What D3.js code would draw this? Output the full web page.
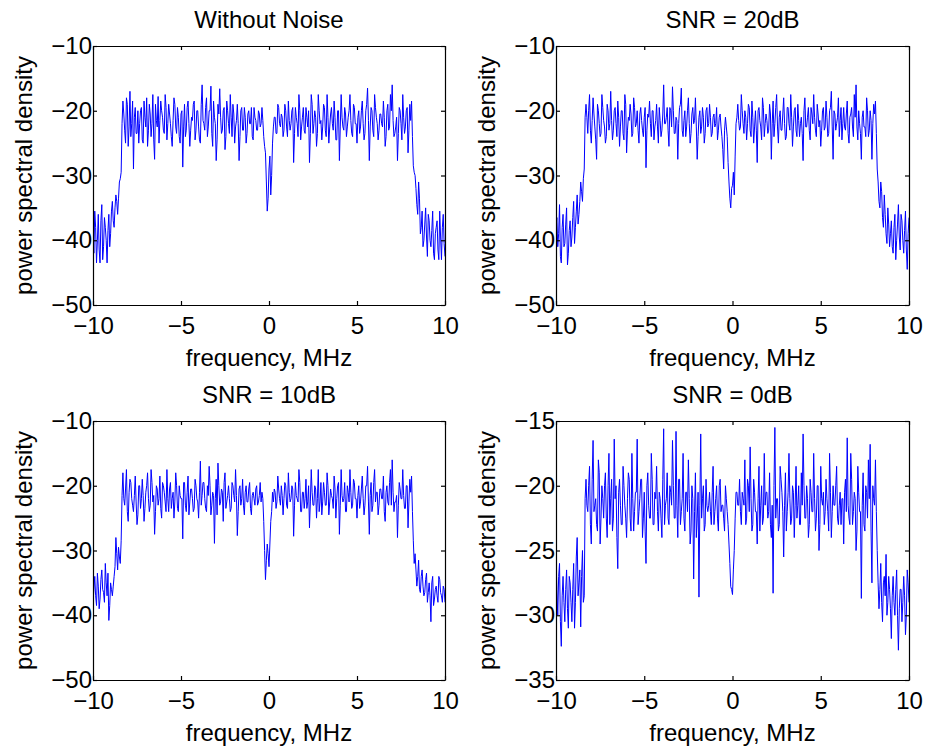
<!DOCTYPE html>
<html><head><meta charset="utf-8">
<script src="https://cdn.jsdelivr.net/npm/d3@7"></script>
<style>
body{margin:0;background:#fff}
svg{display:block}
text{font-family:"Liberation Sans",Arial,Helvetica,sans-serif;fill:#000}
</style>
</head><body>
<svg id="chart" width="925" height="746"></svg>
<script>
// frequency bins (MHz), coarse grid
const freq = [
-10,-9.9,-9.8,-9.7,-9.6,-9.5,-9.4,-9.3,-9.2,-9.1,-9,-8.9,-8.8,-8.7,-8.6,-8.5,-8.4,-8.3,-8.2,-8.1,
-8,-7.9,-7.8,-7.7,-7.6,-7.5,-7.4,-7.3,-7.2,-7.1,-7,-6.9,-6.8,-6.7,-6.6,-6.5,-6.4,-6.3,-6.2,-6.1,
-6,-5.9,-5.8,-5.7,-5.6,-5.5,-5.4,-5.3,-5.2,-5.1,-5,-4.9,-4.8,-4.7,-4.6,-4.5,-4.4,-4.3,-4.2,-4.1,
-4,-3.9,-3.8,-3.7,-3.6,-3.5,-3.4,-3.3,-3.2,-3.1,-3,-2.9,-2.8,-2.7,-2.6,-2.5,-2.4,-2.3,-2.2,-2.1,
-2,-1.9,-1.8,-1.7,-1.6,-1.5,-1.4,-1.3,-1.2,-1.1,-1,-0.9,-0.8,-0.7,-0.6,-0.5,-0.4,-0.3,-0.2,-0.1,
0,0.1,0.2,0.3,0.4,0.5,0.6,0.7,0.8,0.9,1,1.1,1.2,1.3,1.4,1.5,1.6,1.7,1.8,1.9,
2,2.1,2.2,2.3,2.4,2.5,2.6,2.7,2.8,2.9,3,3.1,3.2,3.3,3.4,3.5,3.6,3.7,3.8,3.9,
4,4.1,4.2,4.3,4.4,4.5,4.6,4.7,4.8,4.9,5,5.1,5.2,5.3,5.4,5.5,5.6,5.7,5.8,5.9,
6,6.1,6.2,6.3,6.4,6.5,6.6,6.7,6.8,6.9,7,7.1,7.2,7.3,7.4,7.5,7.6,7.7,7.8,7.9,
8,8.1,8.2,8.3,8.4,8.5,8.6,8.7,8.8,8.9,9,9.1,9.2,9.3,9.4,9.5,9.6,9.7,9.8,9.9,10
];
// intermediate frequency bins (MHz)
const freqMid = [
-9.95,-9.85,-9.75,-9.65,-9.55,-9.45,-9.35,-9.25,-9.15,-9.05,-8.95,-8.85,-8.75,-8.65,-8.55,-8.45,-8.35,-8.25,-8.15,-8.05,
-7.95,-7.85,-7.75,-7.65,-7.55,-7.45,-7.35,-7.25,-7.15,-7.05,-6.95,-6.85,-6.75,-6.65,-6.55,-6.45,-6.35,-6.25,-6.15,-6.05,
-5.95,-5.85,-5.75,-5.65,-5.55,-5.45,-5.35,-5.25,-5.15,-5.05,-4.95,-4.85,-4.75,-4.65,-4.55,-4.45,-4.35,-4.25,-4.15,-4.05,
-3.95,-3.85,-3.75,-3.65,-3.55,-3.45,-3.35,-3.25,-3.15,-3.05,-2.95,-2.85,-2.75,-2.65,-2.55,-2.45,-2.35,-2.25,-2.15,-2.05,
-1.95,-1.85,-1.75,-1.65,-1.55,-1.45,-1.35,-1.25,-1.15,-1.05,-0.95,-0.85,-0.75,-0.65,-0.55,-0.45,-0.35,-0.25,-0.15,-0.05,
0.05,0.15,0.25,0.35,0.45,0.55,0.65,0.75,0.85,0.95,1.05,1.15,1.25,1.35,1.45,1.55,1.65,1.75,1.85,1.95,
2.05,2.15,2.25,2.35,2.45,2.55,2.65,2.75,2.85,2.95,3.05,3.15,3.25,3.35,3.45,3.55,3.65,3.75,3.85,3.95,
4.05,4.15,4.25,4.35,4.45,4.55,4.65,4.75,4.85,4.95,5.05,5.15,5.25,5.35,5.45,5.55,5.65,5.75,5.85,5.95,
6.05,6.15,6.25,6.35,6.45,6.55,6.65,6.75,6.85,6.95,7.05,7.15,7.25,7.35,7.45,7.55,7.65,7.75,7.85,7.95,
8.05,8.15,8.25,8.35,8.45,8.55,8.65,8.75,8.85,8.95,9.05,9.15,9.25,9.35,9.45,9.55,9.65,9.75,9.85,9.95
];

// Without Noise
const psdClean = [
-39,-35.5,-43.5,-36,-43.5,-34.5,-41,-38,-43.5,-36,-39,-34,-38,-33,-36,-31,-29.5,
-18.5,-23,-18,-25.5,-17,-22,-29,-19.5,-23.5,-25,
-20,-24.5,-18.5,-22.5,-25.5,-19,-24,-17.5,-27.5,-21.5,
-17.8,-21.5,-20,-23,-17.5,-24.5,-19,-22,-25.5,-18,
-22.5,-19.5,-24,-20.5,-28.7,-19,-23,-18.5,-25.5,-21,
-19,-24.5,-20,-22.5,-25,-16,-22,-19.5,-24,-20,
-16.2,-25.5,-21,-27.7,-19,-16.6,-23.5,-20,-26,-18.5,
-22,-17.5,-24,-20.5,-22.5,-19,-27.7,-20,-23,-19.5,
-25,-20.5,-22,-19.5,-24.5,-21,-23,-20,-22.5,-19.5,
-24,-26.5,-35.5,-29,-33,-25,-21,
-23.5,-19,-22,-20.5,-24,-19,-22.5,-18.5,-23,-20,
-28,-19.5,-22,-17.5,-24.5,-21,-23,-19.5,-22.5,-28,
-17.5,-23.5,-20,-25.5,-17.5,-22,-24.5,-19,-23,-17.5,
-25,-20.5,-22,-18.5,-24.5,-20,-27.7,-17.5,-22.5,-19.5,
-24,-21,-17.5,-23.5,-19,-22,-25,-20,-22.5,-18.5,
-24.5,-20,-16.5,-27.7,-19.5,-23,-17.5,-21,-24.5,-20.5,
-22,-18.5,-25.5,-20,-23,-17.5,-16,-24,-22.5,-27.7,
-19.5,-22,-17.5,-23.5,-20,-26.5,-19,-18.5,
-28.5,-30,-34.5,-31,-39,-35.5,-40,-35,-42.5,-37,-41,-35.5,-43,-38,-41.5,-35.5,-43,-36,-42.5
];
const psdCleanMid = [
-42,-38,-40,-41.5,-37,-43,-36.5,-40,-38.5,-41,-35.5,-37,-35,-34,-33.5,-30.5,
-22,
-20.5,-25,-19,-22.5,-24,-18.5,-21,-23.5,-20,
-22,-19.5,-25,-21,-18,-23,-20.5,-22,-24.5,-19,
-22.5,-25,-18.5,-21,-23.5,-19.5,-22,-20.5,-24,-21.5,
-19,-23.5,-21,-25,-20,-22.5,-24,-19.5,-22,-23,
-21.5,-18.5,-23,-20,-24.5,-19,-21.5,-23,-18,-22.5,
-20,-23.5,-18.5,-22,-24.5,-20.5,-21,-23,-19.5,-24,
-20,-23.5,-21,-19,-25,-21.5,-22,-24,-19.5,-23,
-21,-23.5,-20,-22,-24,-19.5,-21.5,-23,-20.5,-22,
-21.5,-25.5,-31,-33.5,-27,-30,-22.5,
-21,-23.5,-19.5,-22.5,-21,-23,-20,-24,-21.5,-22,
-19.5,-23.5,-21,-24,-20,-22.5,-19.5,-23.5,-21,-20,
-23.5,-19,-22,-21,-23.5,-20,-21.5,-22.5,-19.5,-24,
-21,-22.5,-19.5,-23,-21,-24.5,-20,-22.5,-21,-23,
-20.5,-22.5,-20,-21.5,-24,-19.5,-22,-21,-23.5,-20,
-22,-23.5,-19,-21.5,-22.5,-20,-24,-19.5,-22,-23,
-20.5,-22.5,-21,-24,-19,-22.5,-20,-21.5,-23.5,-21,
-23.5,-20,-24.5,-21,-22.5,-19.5,-23,-21.5,
-24,
-29.5,-32,-36,-33.5,-38,-41,-37.5,-39.5,-36,-40,-38.5,-42,-39,-37,-43,-39.5,-38,-40.5
];

// SNR = 20dB
const psd20 = [
-38,-41,-34.5,-43.5,-36,-40.5,-35,-42,-37,-39.5,-34,-38,-33,-36,-31,-34,-29,
-19,-23.5,-17.5,-25,-18,-22.5,-27.5,-20,-24,-17.5,
-21.5,-25,-19,-23,-17,-24.5,-20,-22,-18.5,-25.5,
-20,-23.5,-17.5,-26.5,-21,-19,-24,-18,-22.5,-20,
-25,-19.5,-23,-21,-28.8,-20.5,-18.5,-24,-20,-22.5,
-19,-25,-21.5,-23,-16,-22,-19.5,-25.5,-20,-16.3,
-23.5,-21,-27.5,-19.5,-16.5,-24,-20,-22.5,-18,-25,
-20.5,-22,-18,-27.5,-21,-23.5,-19.5,-25,-20,-22.5,
-19,-24,-21,-22.5,-19.5,-23,-20.5,-24,
-29,-21,-24,-31,-35,-31.5,-33,-22,
-19,-23,-17.5,-22,-20,-24.5,-19,-23,-18.5,-25,
-20,-28,-19.5,-22.5,-18,-24,-20.5,-23.5,-19,-27.5,
-18.5,-22,-17.5,-25,-20,-23,-18,-24.5,-19.5,-22,
-17.5,-25.5,-20,-23,-19,-24,-21,-27.7,-18,-22.5,
-19.5,-24.5,-20.5,-17.5,-23,-19,-22.5,-25.5,-20,-23,
-18.5,-24,-20,-17,-27.5,-20.5,-22,-18,-21.5,-24.5,
-19.5,-23,-18.5,-25,-20.5,-22.5,-17.5,-16,-24.5,-22,
-27.5,-20,-22.5,-18,-24,-20,-27.5,-19,-18.5,
-29,-34,-31,-36.5,-33,-39,-35,-41,-37,-42,-36,-40,-34.5,-41.5,-37,-42,-35.5,-44.5,-36.5
];
const psd20Mid = [
-36.5,-39,-42.5,-38,-41,-37.5,-43.8,-38.5,-41,-36.5,-40.5,-35.5,-37.5,-34,-32.5,-30.5,
-21,
-21,-20,-23,-21.5,-20.5,-24.5,-19,-22,-23.5,
-19.5,-22.5,-24,-20,-22,-21.5,-23,-19.5,-24,-21,
-22.5,-20,-24.5,-19,-23,-21.5,-20.5,-23.5,-19.5,-22,
-23,-20.5,-21.5,-24,-19.5,-23,-21,-22,-20,-24.5,
-21.5,-22.5,-19.5,-24,-20.5,-22,-21,-23,-19.5,-22.5,
-20,-23.5,-21.5,-22,-19,-23,-21.5,-24,-20,-22,
-23.5,-19.5,-21.5,-22.5,-24,-20,-22.5,-21,-23.5,-19.5,
-22,-21,-23.5,-20.5,-22,-24.5,-21,-22.5,-26,-23,
-22.5,-28,-33.5,-32,-29.5,-27,-21,
-21.5,-22.5,-20,-23.5,-21,-22,-19.5,-24,-21,-22.5,
-23,-20,-21.5,-24.5,-19.5,-22,-21.5,-23,-20.5,-22,
-24,-19.5,-22.5,-21,-23,-20.5,-22,-24,-19.5,-23,
-21,-22.5,-19.5,-24,-21.5,-22,-23.5,-20,-22.5,-21,
-23,-19.5,-22,-21,-24,-20.5,-21.5,-23,-19.5,-22.5,
-21,-23.5,-19.5,-22.5,-20,-23,-21,-24,-19.5,-22,
-22.5,-20.5,-23.5,-21,-19.5,-24,-21,-22.5,-20,-23.5,
-21,-22.5,-24,-20,-23,-21.5,-22,-20.5,
-23.5,
-31,-35,-32.5,-38,-36,-40.5,-37.5,-39,-41,-38,-43,-37.5,-39.5,-36,-40,-38.5,-41.5,-39
];

// SNR = 10dB
const psd10 = [
-38,-34,-38.5,-35.5,-37.5,-33,-36.5,-32,-37,-40.8,-35,-37,-34,-28,-33,-31,-28.5,
-18,-23,-17.5,-25.5,-19,-22,-24,-18.5,-26,-20,
-23.5,-19,-25.5,-21,-18,-24,-17.5,-22.5,-27.5,-20,
-23,-18.5,-25,-20,-22.5,-17.5,-24,-19.5,-22,-25,
-18,-23.5,-20,-22,-28.2,-19.5,-24,-18.5,-22.5,-20.5,
-24,-19,-22,-25,-16.2,-21.5,-19.5,-23.5,-20,-17,
-24.5,-21,-28.9,-19,-16.5,-23,-20.5,-25.5,-18,-22.5,
-20,-24,-19.5,-21.5,-17.5,-27.7,-20.5,-23,-19,-24.5,
-20,-22.5,-19.5,-24.5,-21,-23,-20,-22.5,-19.5,-21,
-25.5,-34.5,-29,-32.5,-25.5,-21,-20.5,
-23.5,-18.5,-22,-20,-24.5,-19.5,-23,-18,-22.5,-20,
-27.8,-19.5,-22,-17.5,-24,-21,-23.5,-19,-22.5,-26.5,
-17.5,-23,-20,-25,-17.5,-22.5,-24.5,-19.5,-23,-18,
-24.5,-20.5,-22,-18.5,-25,-20,-27.5,-17.5,-22.5,-19.5,
-24,-21,-17.5,-23.5,-19,-22,-25,-20,-22.5,-18.5,
-24.5,-20,-17,-27.5,-19.5,-23,-17.5,-21,-24.5,-20.5,
-22,-18.5,-25.5,-20,-23,-17.5,-16,-24,-22.5,-28,
-19.5,-22,-17.5,-23.5,-20,-26.5,-19,-18.5,
-28.5,-30.5,-35.5,-31.5,-36.5,-33,-37,-34.5,-38,-35,-41,-34,-37.5,-35.5,-38,-34.5,-37,-35.5,-38
];
const psd10Mid = [
-36,-37,-33.5,-39,-34.5,-36,-38,-35,-33.5,-38.5,-36,-35.5,-32.5,-30.5,-29.5,-32,
-21.5,
-22,-20.5,-24,-21,-19.5,-23,-21.5,-22.5,-24.5,
-20,-22,-21.5,-23.5,-20,-22,-23,-19.5,-21.5,-24,
-20.5,-22,-23.5,-19.5,-21,-24,-22,-20.5,-23.5,-21,
-22.5,-20,-24,-21.5,-22,-19.5,-23,-21,-24.5,-20.5,
-22,-23.5,-20,-22.5,-21,-23,-19.5,-22,-24,-21.5,
-20,-23,-21.5,-22,-24.5,-20,-22.5,-21,-19.5,-23.5,
-21.5,-22,-23.5,-20,-22.5,-21.5,-24,-20,-22,-23,
-21,-22.5,-20.5,-23.5,-21.5,-22,-20.5,-23,-21.5,-22.5,
-22,-30,-31.5,-30.5,-29,-24,-22.5,
-21,-22.5,-20.5,-23,-21.5,-22,-20,-23.5,-21,-22,
-20.5,-23,-21.5,-22.5,-19.5,-24,-21,-22,-23.5,-20,
-22.5,-21,-23,-20.5,-22,-24,-19.5,-22.5,-21,-23,
-20,-22.5,-21.5,-23.5,-20.5,-22,-19.5,-23,-21.5,-22,
-24,-20,-22.5,-21,-23,-19.5,-22,-21.5,-23.5,-20.5,
-22,-23,-20,-22.5,-21.5,-24,-19.5,-22.5,-21,-23,
-20.5,-22,-24,-21,-22.5,-19.5,-23,-21,-22.5,-21.5,
-23,-20.5,-22,-21.5,-23.5,-20,-22.5,-21,
-24,
-32,-33,-34,-36,-34,-35.5,-36.5,-33.5,-36.5,-37,-35,-38.5,-36,-37,-34,-36.5,-38,-36
];

// SNR = 0dB
const psd0 = [
-25.5,-30,-26,-32.4,-27,-30.5,-26.5,-31,-27.5,-30.5,-26,-29,-24,-27.5,-30.9,-25,-28.5,
-19.5,-22,-18.5,-24.5,-16.5,-21.5,-23,-18,-24.5,-20,
-22.5,-19,-24,-17.5,-21,-23.5,-16.4,-20,-26.4,-19.5,
-23,-18.5,-21.5,-24,-19,-22.5,-17.5,-23.5,-20.5,-16.4,
-22,-19.5,-24,-20.5,-26,-19,-22.5,-17.5,-23,-20.5,
-18.5,-23.5,-21,-24,-15.6,-21.5,-19,-23,-20.5,-16.5,
-22.5,-15.8,-24,-19.5,-22,-17.5,-23.5,-20.5,-18,-24.5,
-20,-27.2,-19,-22.5,-28.6,-16,-21,-23.5,-19.5,-22,
-20.5,-23,-18.5,-22,-20,-23.5,-19.5,-21.5,-22.5,-20,
-22,-24.5,-27.8,-28.4,-25,-20.5,-21.5,
-19.5,-23,-21,-18,-22.5,-20,-17,-23.5,-19.5,-22,
-24.5,-18.5,-21.5,-23,-17.5,-20.5,-22.5,-19,-24,-28.3,
-15.5,-21,-23.5,-18.5,-20.5,-25.5,-19,-22,-17.5,-23,
-20,-24,-18.5,-21.5,-23,-19,-16,-22.5,-20,-24,
-19.5,-22,-17.5,-23.5,-20,-25,-18.5,-21.5,-23,-19.5,
-22,-17.5,-24,-20,-21.5,-18.5,-23,-20.5,-21,-24.5,
-19.5,-16.3,-22.5,-17.5,-23,-20.5,-25,-18.5,-22,-28.7,
-19,-23.5,-20.5,-18,-16.8,-27.5,-21,-18,
-25,-29.5,-26,-30.5,-27,-25.3,-29,-28,-31.8,-27,-30,-26.5,-32.7,-28,-30.5,-27,-31.5,-26.5,-29
];
const psd0Mid = [
-28,-27,-30.5,-28.5,-29,-28,-29.5,-27,-29,-28,-31,-25.5,-28.5,-26.5,-27,-29,
-21,
-21.5,-20,-23,-19.5,-22,-21,-23.5,-19,-22.5,
-21,-20,-22.5,-20,-23,-19.5,-22.5,-21,-24,-20.5,
-21.5,-23,-20,-22.5,-21,-19.5,-23.5,-21,-22,-20.5,
-23,-21,-19.5,-22.5,-23.5,-20,-21.5,-22.5,-19.5,-23,
-21,-22,-20.5,-22.5,-19.5,-23,-21,-22.5,-20,-21.5,
-20,-22.5,-21.5,-19.5,-23,-21,-22.5,-20.5,-22,-21,
-23.5,-21,-22,-24,-20.5,-21.5,-22.5,-20,-23,-21.5,
-21.5,-22,-20.5,-23,-21,-22.5,-20,-22,-21.5,-23.5,
-21,-23,-26,-28,-26.5,-22.5,-20.5,
-21.5,-22,-20.5,-21.5,-23,-19.5,-22,-21,-23,-20.5,
-22,-21,-23.5,-20,-22.5,-21.5,-20.5,-22,-23,-21.5,
-20,-22.5,-21,-23,-19.5,-22,-21.5,-23.5,-20.5,-21,
-22.5,-20.5,-21.5,-22.5,-20,-23,-21.5,-20,-22.5,-21,
-23,-20.5,-22,-21,-22.5,-20,-23,-21,-20.5,-22,
-21,-23.5,-20.5,-22,-21.5,-20,-22.5,-21.5,-23,-21,
-20.5,-22,-21.5,-23,-19.5,-22,-21,-23.5,-20.5,-22,
-21.5,-23,-20,-22.5,-21,-23.5,-20,-21.5,
-22,
-27.5,-28,-29,-27.5,-28.5,-30,-27,-29.5,-28.5,-29,-28,-30,-29.5,-28,-29,-28.5,-30,-27.5
];

const seriesList = [[psdClean, psdCleanMid], [psd20, psd20Mid], [psd10, psd10Mid], [psd0, psd0Mid]];
const titles = ["Without Noise", "SNR = 20dB", "SNR = 10dB", "SNR = 0dB"];
const xDomain = [-10, 10];
const yDomains = [[-50, -10], [-50, -10], [-50, -10], [-35, -15]];
const xTicks = [-10, -5, 0, 5, 10];
const yTicksList = [[-50, -40, -30, -20, -10], [-50, -40, -30, -20, -10], [-50, -40, -30, -20, -10], [-35, -30, -25, -20, -15]];
const xLabel = "frequency, MHz";
const yLabel = "power spectral density";

const boxes = [
  {l: 93, t: 46, r: 445, b: 305},
  {l: 556, t: 46, r: 909, b: 305},
  {l: 93, t: 421, r: 445, b: 680},
  {l: 556, t: 421, r: 909, b: 680}
];

const svg = d3.select("#chart");
const FS = 24;
const fmt = d3.format("");

boxes.forEach((bx, k) => {
  const w = bx.r - bx.l, h = bx.b - bx.t;
  const x = d3.scaleLinear().domain(xDomain).range([0, w]);
  const y = d3.scaleLinear().domain(yDomains[k]).range([h, 0]);
  const g = svg.append("g").attr("transform", `translate(${bx.l},${bx.t})`);

  g.append("clipPath").attr("id", "clip" + k)
    .append("rect").attr("x", 0).attr("y", 0).attr("width", w).attr("height", h);

  const [main, mid] = seriesList[k];
  const data = freq.map((f, i) => [f, main[i]])
    .concat(freqMid.map((f, i) => [f, mid[i]]))
    .sort((a, b) => a[0] - b[0]);
  const line = d3.line().x(d => x(d[0])).y(d => y(d[1]));
  g.append("path").datum(data)
    .attr("clip-path", `url(#clip${k})`)
    .attr("fill", "none").attr("stroke", "#0000ff").attr("stroke-width", 1)
    .attr("d", line);

  const styleAxis = sel => {
    sel.selectAll("path,line").attr("stroke", "#000").attr("stroke-width", 1.2);
    sel.selectAll("text").style("font-size", FS + "px")
      .attr("fill", "#000")
      .style("font-family", '"Liberation Sans",Arial,Helvetica,sans-serif');
  };

  g.append("g").attr("transform", `translate(0,${h})`)
    .call(d3.axisBottom(x).tickValues(xTicks).tickSizeInner(-4).tickSizeOuter(0).tickPadding(12).tickFormat(fmt))
    .call(styleAxis)
    .call(s => s.selectAll("text").attr("dy", "0.71em"));
  g.append("g")
    .call(d3.axisTop(x).tickValues(xTicks).tickSizeInner(-4).tickSizeOuter(0).tickFormat(""))
    .call(styleAxis);
  g.append("g")
    .call(d3.axisLeft(y).tickValues(yTicksList[k]).tickSizeInner(-4).tickSizeOuter(0).tickPadding(1).tickFormat(fmt))
    .call(styleAxis);
  g.append("g").attr("transform", `translate(${w},0)`)
    .call(d3.axisRight(y).tickValues(yTicksList[k]).tickSizeInner(-4).tickSizeOuter(0).tickFormat(""))
    .call(styleAxis);

  g.append("text").attr("x", w / 2).attr("y", -18)
    .attr("text-anchor", "middle").style("font-size", FS + "px").text(titles[k]);
  g.append("text").attr("x", w / 2).attr("y", h + 61)
    .attr("text-anchor", "middle").style("font-size", FS + "px").text(xLabel);
  g.append("text").attr("transform", `translate(-61,${h / 2}) rotate(-90)`)
    .attr("text-anchor", "middle").style("font-size", FS + "px").text(yLabel);
});
</script>
</body></html>
